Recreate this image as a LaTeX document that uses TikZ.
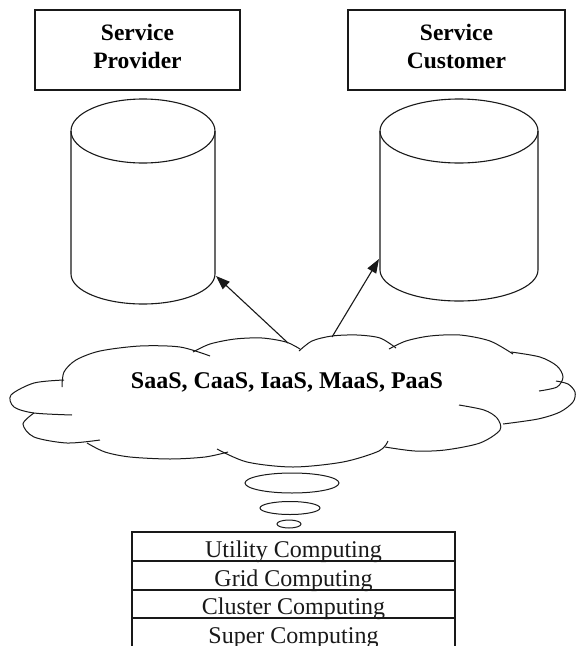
\documentclass[tikz,border=0pt]{standalone}
\usepackage{fontspec}
\setmainfont{Liberation Serif}
\usetikzlibrary{arrows.meta}
\begin{document}
\begin{tikzpicture}[x=1pt,y=-1pt,
  ln/.style={line width=1.1pt, black!90},
  box/.style={draw, ln, inner sep=0pt},
  boxtext/.style={font=\fontsize{23.5}{28}\selectfont\bfseries, align=center, inner sep=0pt},
  rowbox/.style={draw, ln, minimum width=323pt, inner sep=0pt, text height=21pt, text depth=0pt, font=\fontsize{24}{28}\selectfont},
  arr/.style={ln, -{Triangle[length=14pt,width=10pt]}},
  cloudline/.style={line width=1pt, black!90}
]
\useasboundingbox (0,0) rectangle (576,646);
\fill[white] (0,0) rectangle (576,646);
\clip (0,0) rectangle (576,646);

% top boxes
\node[box, minimum width=205pt, minimum height=80pt] (prov) at (137.5,50) {};
\node[boxtext] (provtext) at (137.5,46) {Service\\Provider};
\node[box, minimum width=217pt, minimum height=80pt] (cust) at (456.5,50) {};
\node[boxtext] (custtext) at (456.5,46) {Service\\Customer};

% cylinders
\draw[ln] (143,131) ellipse[x radius=72pt, y radius=32pt];
\draw[ln] (71,131) -- (71,274) arc[start angle=180, end angle=360, x radius=72pt, y radius=30pt] -- (215,131);
\draw[ln] (459,131) ellipse[x radius=79pt, y radius=32pt];
\draw[ln] (380,131) -- (380,270) arc[start angle=180, end angle=360, x radius=79pt, y radius=31pt] -- (538,131);
\coordinate (lcyl) at (216,276);
\coordinate (rcyl) at (379,259);

% cloud
\draw[cloudline] plot[smooth] coordinates {(62,387) (64,372) (76,360) (100,351) (140,346) (180,347) (210,356)};
\draw[cloudline] plot[smooth] coordinates {(193,352) (210,344) (235,339) (262,338) (286,342) (300,349)};
\draw[cloudline] plot[smooth] coordinates {(299,351) (312,341) (332,336) (357,335) (380,338) (396,348)};
\draw[cloudline] plot[smooth] coordinates {(389,349) (406,341) (430,336) (460,335) (490,341) (513,354)};
\draw[cloudline] plot[smooth] coordinates {(511,352) (540,357) (557,366) (563,377) (557,387) (539,391)};
\draw[cloudline] plot[smooth] coordinates {(556,381) (568,384) (575,392) (573,402) (560,412) (538,419) (503,424)};
\draw[cloudline] plot[smooth] coordinates {(459,405) (484,410) (497,418) (500,430) (480,443) (445,450) (415,451) (385,447)};
\draw[cloudline] plot[smooth] coordinates {(388,441) (379,451) (343,462) (293,467) (247,462) (217,449)};
\draw[cloudline] plot[smooth] coordinates {(87,443) (105,452) (130,457) (170,459) (205,457) (228,452)};
\draw[cloudline] plot[smooth] coordinates {(34,413) (23,424) (34,437) (67,443) (100,440)};
\draw[cloudline] plot[smooth] coordinates {(64,380) (34,383) (11,395) (14,407) (34,413) (72,415)};
\node[font=\fontsize{24}{28}\selectfont\bfseries, inner sep=0pt, anchor=base] (cloud) at (287,388) {SaaS, CaaS, IaaS, MaaS, PaaS};
\coordinate (csrcl) at (288,343);
\coordinate (csrcr) at (332,337);

% arrows
\draw[arr] (csrcl) -- (lcyl);
\draw[arr] (csrcr) -- (rcyl);

% small ellipses
\draw[cloudline] (292,483) ellipse[x radius=47pt, y radius=10pt];
\draw[cloudline] (290,508) ellipse[x radius=30pt, y radius=6.5pt];
\draw[cloudline] (289,524) ellipse[x radius=12pt, y radius=4pt];

% table
\node[rowbox, minimum height=29pt] (r1) at (293.5,546.5) {Utility Computing};
\node[rowbox, minimum height=29pt] (r2) at (293.5,575.5) {Grid Computing};
\node[rowbox, minimum height=28pt] (r3) at (293.5,604) {Cluster Computing};
\node[rowbox, minimum height=30pt] (r4) at (293.5,633) {Super Computing};
\end{tikzpicture}
\end{document}
